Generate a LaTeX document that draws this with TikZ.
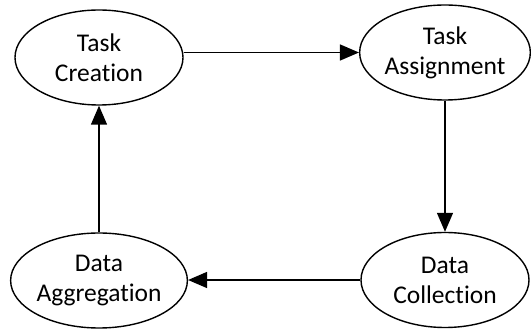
\documentclass[tikz,border=0pt]{standalone}
\usepackage{fontspec}
\setmainfont{Carlito}[Ligatures=NoCommon]
\usetikzlibrary{arrows.meta,shapes.geometric}
\begin{document}
\begin{tikzpicture}[x=1pt,y=-1pt,
  stage/.style={draw=black, line width=1.4pt, ellipse, minimum width=168pt, minimum height=95pt, inner sep=0pt, align=center, font=\fontsize{25.5}{30}\selectfont},
  flow/.style={draw=black, line width=1.4pt, -{Triangle[length=19pt,width=16pt]}}]
\useasboundingbox (0,0) rectangle (531,331);
\node[stage] (tc) at (99,57.5) {Task\\Creation};
\node[stage] (ta) at (445,52.5) {Task\\Assignment};
\node[stage] (dc) at (445,280) {Data\\Collection};
\node[stage] (da) at (99,280.5) {Data\\Aggregation};
\draw[flow] (tc.east |- ta.west) -- (ta.west);
\draw[flow] (ta.south) -- (dc.north);
\draw[flow] (dc.west) -- (dc.west -| da.east);
\draw[flow] (da.north) -- (tc.south);
\end{tikzpicture}
\end{document}
